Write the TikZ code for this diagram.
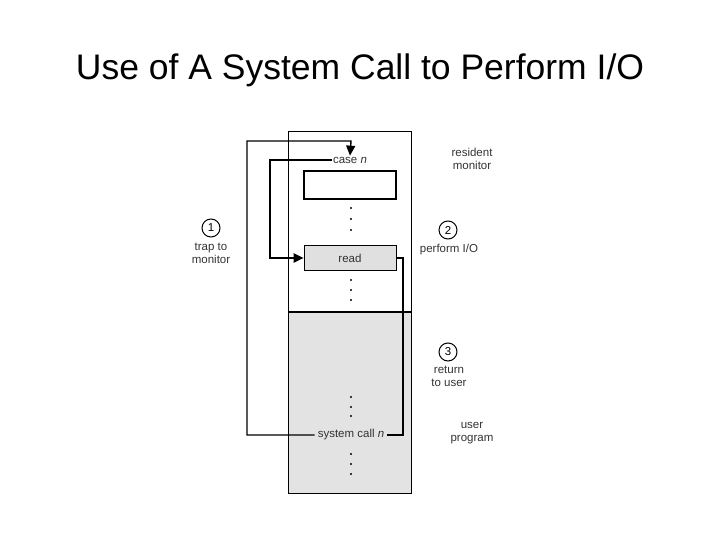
\documentclass[tikz,border=0pt]{standalone}
\usepackage{fontspec}
\setmainfont{Liberation Sans}
\usetikzlibrary{arrows.meta}
\begin{document}
\begin{tikzpicture}[x=1pt,y=-1pt,
  lbl/.style={font=\fontsize{11.5}{13}\selectfont, text=black!80, align=center, inner sep=1pt},
  num/.style={draw, circle, line width=1pt, minimum size=18pt, inner sep=0pt, font=\fontsize{11.5}{13}\selectfont},
  dot/.style={circle, fill=black, inner sep=0pt, minimum size=2.4pt},
  conn/.style={line width=1.4pt},
  thickconn/.style={line width=2.2pt},
  arr/.style={-{Triangle[length=10pt,width=9pt]}}]
\useasboundingbox (0,0) rectangle (720,540);
\node[font=\fontsize{35.5}{40}\selectfont] (title) at (360,70) {Use of A System Call to Perform I/O};
% column
\fill[black!11] (288,312) rectangle (411,493);
\draw[line width=1pt] (288,132) rectangle (411,493);
\draw[line width=2pt] (288,312) -- (411,312);
% boxes
\node[draw, line width=1.8pt, minimum width=92pt, minimum height=28pt, inner sep=0pt] (blank) at (350,185) {};
\node[draw, fill=black!12, line width=0.6pt, minimum width=92pt, minimum height=25pt, inner sep=0pt, lbl] (read) at (350,258) {read};
% texts
\node[lbl, fill=white] (case) at (350,160) {case \textit{n}};
\node[lbl, fill=black!11, inner sep=3pt] (sys) at (351,435) {system call \textit{n}};
% dots
\foreach \y [count=\i] in {208,219,230,280,290,300,397,407,416,454,464,474}
  \node[dot] (d\i) at (351,\y) {};
% side labels
\node[lbl] (res) at (472,159) {resident\\monitor};
\node[num] (n2) at (448,230) {2};
\node[lbl, anchor=north] (perf) at (449,243) {perform I/O};
\node[num] (n3) at (448,352) {3};
\node[lbl, anchor=north] (ret) at (449,365) {return\\to user};
\node[lbl] (up) at (472,433) {user\\program};
\node[num] (n1) at (211,228) {1};
\node[lbl, anchor=north] (trap) at (211,242) {trap to\\monitor};
% connectors
\coordinate (a1) at (247,435);
\coordinate (a2) at (247,141);
\coordinate (a3) at (351,141);
\draw[conn, arr] (sys.west) -- (a1) -- (a2) -- (a3) -- (case.north);
\coordinate (b1) at (270,160);
\coordinate (b2) at (270,258);
\draw[thickconn, arr] (case.west) -- (b1) -- (b2) -- (read.west);
\coordinate (c1) at (403,258);
\coordinate (c2) at (403,435);
\draw[thickconn] (read.east) -- (c1) -- (c2) -- (sys.east);
\end{tikzpicture}
\end{document}
